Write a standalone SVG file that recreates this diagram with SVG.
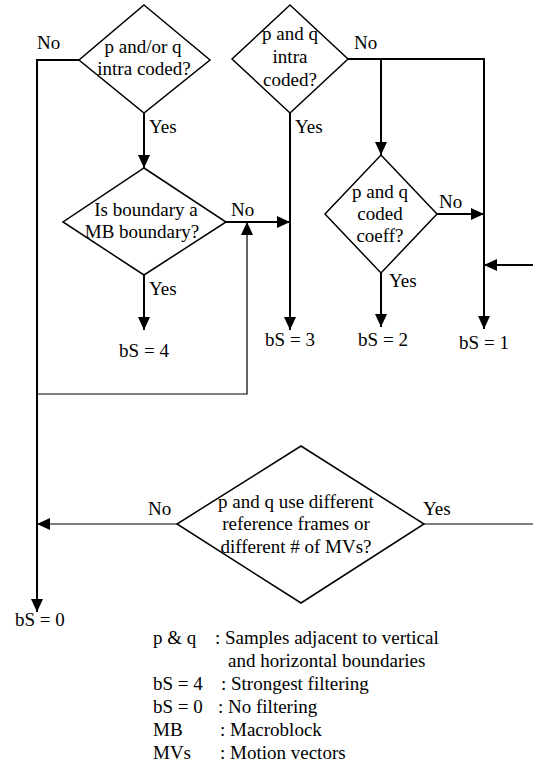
<svg xmlns="http://www.w3.org/2000/svg" width="533" height="766" viewBox="0 0 533 766">
<defs>
<style>
text{font-family:"Liberation Serif","Times New Roman",serif;font-size:19px;fill:#000}
.c{text-anchor:middle}
.dia{fill:#fff;stroke:#000;stroke-width:1.5}
.ln{fill:none;stroke:#000;stroke-width:2}
.thin{fill:none;stroke:#000;stroke-width:1.2}
</style>
<marker id="ah" markerUnits="userSpaceOnUse" markerWidth="14" markerHeight="12" refX="13" refY="6" orient="auto">
<path d="M0,0 L13,6 L0,12 Z" fill="#000"/>
</marker>
</defs>
<rect width="533" height="766" fill="#fff"/>
<g id="connectors">
<path class="ln" d="M79,60 H37 V612" marker-end="url(#ah)"/>
<path class="ln" d="M144,113 V168" marker-end="url(#ah)"/>
<path class="ln" d="M144,275 V330" marker-end="url(#ah)"/>
<path class="ln" d="M226,222 H290" marker-end="url(#ah)"/>
<path class="thin" d="M37,394 H247 V222" marker-end="url(#ah)"/>
<path class="ln" d="M290,113 V330" marker-end="url(#ah)"/>
<path class="ln" d="M348,59 H484 V329" marker-end="url(#ah)"/>
<path class="ln" d="M381,59 V155" marker-end="url(#ah)"/>
<path class="ln" d="M437,214 H484" marker-end="url(#ah)"/>
<path class="ln" d="M381,273 V327" stroke="#666" marker-end="url(#ah)"/>
<path class="ln" d="M533,265 H484" marker-end="url(#ah)"/>
<path class="thin" d="M177,524 H37" marker-end="url(#ah)"/>
<path class="thin" d="M424,524 H533"/>
<text x="37" y="49">No</text>
<text x="149" y="133">Yes</text>
<text x="231" y="216">No</text>
<text x="149" y="295">Yes</text>
<text x="295" y="133">Yes</text>
<text x="354" y="49">No</text>
<text x="439" y="208">No</text>
<text x="389" y="287">Yes</text>
<text x="148" y="515">No</text>
<text x="423" y="515">Yes</text>
</g>
<g id="d1">
<polygon class="dia" points="144,5 210,60 144,113 79,60"/>
<text class="c" x="143" y="53">p and/or q</text>
<text class="c" x="144" y="75">intra coded?</text>
</g>
<g id="d2">
<polygon class="dia" points="144,168 226,222 144,275 63,222"/>
<text class="c" x="146" y="216">Is boundary a</text>
<text class="c" x="142" y="238">MB boundary?</text>
</g>
<g id="d3">
<polygon class="dia" points="290,5 348,59 290,113 232,59"/>
<text class="c" x="290" y="40">p and q</text>
<text class="c" x="290" y="63">intra</text>
<text class="c" x="290" y="86">coded?</text>
</g>
<g id="d4">
<polygon class="dia" points="381,155 437,214 381,273 325,214"/>
<text class="c" x="380" y="198">p and q</text>
<text class="c" x="380" y="220">coded</text>
<text class="c" x="380" y="242">coeff?</text>
</g>
<g id="d5">
<polygon class="dia" points="301,446 424,524 301,603 177,524"/>
<text class="c" x="296" y="508">p and q use different</text>
<text class="c" x="296" y="530">reference frames or</text>
<text class="c" x="296" y="553">different # of MVs?</text>
</g>
<g id="bs4"><text class="c" x="144" y="357">bS = 4</text></g>
<g id="bs3"><text class="c" x="290" y="346">bS = 3</text></g>
<g id="bs2"><text class="c" x="383" y="346">bS = 2</text></g>
<g id="bs1"><text class="c" x="484" y="349">bS = 1</text></g>
<g id="bs0"><text x="15" y="626">bS = 0</text></g>
<g id="legend">
<text x="153" y="644">p &amp; q</text>
<text x="215" y="644">: Samples adjacent to vertical</text>
<text x="228" y="667">and horizontal boundaries</text>
<text x="153" y="690">bS = 4</text>
<text x="221" y="690">: Strongest filtering</text>
<text x="153" y="713">bS = 0</text>
<text x="218" y="713">: No filtering</text>
<text x="153" y="736">MB</text>
<text x="220" y="736">: Macroblock</text>
<text x="153" y="759">MVs</text>
<text x="220" y="759">: Motion vectors</text>
</g>
</svg>
